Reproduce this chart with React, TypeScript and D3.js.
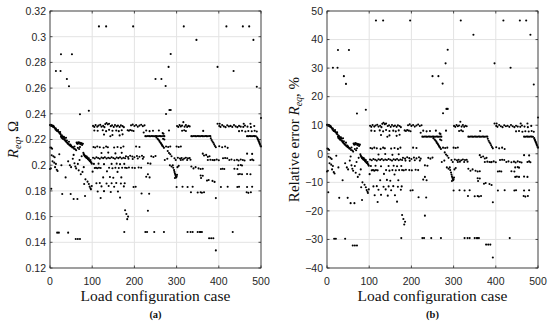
import React from "react";
import * as d3 from "d3";

// Nominal equivalent resistance used for the relative error (Ω)
const R_NOMINAL = 0.21;

const X_TICKS = [0, 100, 200, 300, 400, 500];
const Y_TICKS_A = [0.12, 0.14, 0.16, 0.18, 0.2, 0.22, 0.24, 0.26, 0.28, 0.3, 0.32];
const Y_TICKS_B = [-40, -30, -20, -10, 0, 10, 20, 30, 40, 50];

// [load configuration case, R_eq (Ω)]
const POINTS_A: [number, number][] = [
  [0,.2313],[1,.2310],[2,.2314],[3,.2306],[4,.2311],[5,.2309],[6,.2304],[7,.2300],[8,.2306],[9,.2298],[10,.2294],[12,.2288],[13,.2278],[14,.2286],[15,.2273],[16,.2268],[18,.2266],[19,.2274],[20,.2260],[22,.2255],[23,.2247],[24,.2258],[25,.2242],[26,.2226],[27,.2216],[28,.2232],[29,.2210],[30,.2223],[31,.2204],[32,.2216],[33,.2221],[34,.2198],[35,.2211],[36,.2194],[37,.2186],[38,.2214],[39,.2180],[40,.2192],[41,.2174],[42,.2168],[44,.2165],[45,.2182],[46,.2156],[48,.2160],[49,.2148],[50,.2153],[52,.2144],[53,.2138],[55,.2139],[57,.2128],[58,.2146],[60,.2124],[62,.2116],
  [63,.2176],[64,.2171],[65,.2166],[67,.2179],[68,.2170],[70,.2176],[72,.2164],[73,.2172],[75,.2170],[76,.2158],[78,.2167],[66,.2135],[69,.2126],[71,.2141],
  [79,.2096],[80,.2086],[81,.2080],[82,.2074],[83,.2068],[84,.2073],[85,.2064],[86,.2058],[87,.2068],[88,.2054],[89,.2060],[90,.2048],[91,.2044],[92,.2053],[93,.2038],[94,.2034],[95,.2030],[96,.2040],[97,.2024],[98,.2019],[99,.2012],
  [84,.1890],[89,.1872],[92,.1854],[94,.1833],[96,.1820],[97,.1812],[99,.1838],
  [1,.2138],[3,.2135],[5,.2128],[4,.2078],[8,.2070],[11,.2062],[6,.2030],[10,.2020],[12,.1985],[2,.1975],[0,.1970],[16,.1965],[18,.1955],[14,.2010],[27,.2000],[22,.2085],[37,.1905],[43,.2030],[47,.2000],[50,.1985],[54,.2050],[56,.2080],[58,.2015],[60,.1990],[62,.1975],[66,.2010],[68,.1960],[70,.2040],[73,.1930],[75,.2070],[77,.1948],[80,.1985],
];

const POINTS_B: [number, number][] = [
  [102,.2306],[105,.2298],[108,.2312],[112,.2300],[115,.2308],[119,.2314],[122,.2300],[126,.2306],[129,.2296],[131,.2320],[134,.2328],[137,.2318],[140,.2322],[144,.2304],[147,.2310],[151,.2298],[154,.2312],[158,.2302],[161,.2308],[165,.2298],[168,.2310],[172,.2304],[175,.2296],
  [105,.2270],[113,.2268],[125,.2272],[133,.2265],[140,.2275],[148,.2268],[157,.2270],[163,.2265],[170,.2272],
  [128,.2238],[148,.2235],[165,.2232],[172,.2240],[143,.2225],
  [103,.2142],[107,.2138],[112,.2145],[118,.2140],[127,.2136],[133,.2145],[137,.2140],[152,.2138],[160,.2142],[168,.2136],[174,.2145],
  [122,.2095],[138,.2098],[155,.2092],[170,.2096],
  [102,.2058],[106,.2052],[110,.2062],[114,.2056],[118,.2050],[122,.2060],[126,.2055],[130,.2062],[134,.2052],[138,.2058],[142,.2054],[146,.2062],[150,.2056],[154,.2050],[158,.2060],[162,.2055],[166,.2062],[170,.2052],[174,.2058],[178,.2054],
  [104,.2010],[115,.2012],[128,.2008],[146,.2010],[158,.2012],[166,.2008],[176,.2010],
  [106,.1978],[109,.1980],[112,.1976],[116,.1980],[120,.1978],[140,.1980],[148,.1976],[155,.1980],[163,.1978],[171,.1980],
  [101,.1950],[135,.1952],[160,.1948],
  [126,.1905],[142,.1908],[150,.1902],[169,.1905],
  [110,.1860],[118,.1862],[134,.1858],[146,.1860],[157,.1862],[168,.1858],
  [122,.1835],[139,.1838],[152,.1832],[175,.1835],
  [113,.1795],[128,.1798],[144,.1792],[161,.1795],
  [120,.1745],[166,.1748],
];

const POINTS_C: [number, number][] = [
  [192,.2310],[196,.2316],[200,.2305],[204,.2312],[208,.2300],[212,.2308],[216,.2315],[220,.2304],[224,.2310],
  [184,.2272],[187,.2268],[190,.2274],[194,.2270],[198,.2266],[222,.2255],[228,.2270],[236,.2265],[244,.2268],[258,.2270],
  [226,.2226],[229,.2225],[232,.2227],[235,.2226],[238,.2225],[241,.2227],[244,.2226],[247,.2225],[250,.2227],[253,.2226],[256,.2225],[259,.2227],[262,.2226],[265,.2225],[268,.2227],[271,.2226],
  [252,.2215],[255,.2205],[257,.2198],[259,.2190],[260,.2182],[262,.2175],[263,.2168],[265,.2160],[266,.2152],[268,.2145],[270,.2135],
  [267,.2250],[269,.2245],[268,.2205],[271,.2200],
  [204,.2145],[212,.2142],[275,.2145],[280,.2142],[285,.2145],
  [279,.2110],[282,.2095],[285,.2085],[288,.2070],
  [180,.2070],[185,.2064],[190,.2074],[195,.2068],[200,.2062],[206,.2072],[212,.2066],[218,.2074],[222,.2064],[240,.2070],[245,.2064],[250,.2072],
  [186,.2050],[196,.2048],[208,.2052],[220,.2050],
  [178,.1980],[182,.1978],[187,.1982],[195,.1980],[201,.1978],[210,.1982],[216,.1980],
  [232,.2015],[238,.2012],
  [228,.1910],[236,.1905],[232,.1930],
  [198,.1830],[203,.1832],
  [217,.1780],[235,.1778],
  [177,.1860],
  [272,.2040],[278,.2050],[284,.2000],[288,.1990],
];

const POINTS_D: [number, number][] = [
  [291,.2000],[292,.1980],[294,.1962],[295,.1948],[296,.1935],[297,.1925],[298,.1915],[299,.1905],[300,.1912],[301,.1925],[296,.1900],[302,.1985],[305,.1995],
  [301,.2305],[304,.2298],[307,.2312],[310,.2302],[313,.2308],[316,.2335],[319,.2300],[322,.2312],[325,.2298],[328,.2306],[331,.2302],
  [282,.2270],[313,.2268],[318,.2272],[322,.2266],
  [300,.2145],[305,.2142],[310,.2146],
  [295,.2054],[303,.2058],[308,.2052],[312,.2056],[318,.2052],[322,.2058],[327,.2054],[331,.2056],
  [298,.2040],[310,.2040],[315,.2042],[325,.2040],[333,.2042],
  [335,.2226],[338,.2225],[341,.2227],[344,.2226],[347,.2225],[350,.2227],[353,.2226],[356,.2225],[359,.2227],[362,.2226],[365,.2225],[368,.2227],[371,.2226],[374,.2225],[377,.2227],[380,.2226],
  [381,.2210],[383,.2196],[385,.2185],[387,.2175],[389,.2162],[391,.2150],[393,.2140],
  [363,.2267],
  [362,.2090],[365,.2075],[370,.2080],[374,.2065],[378,.2070],
  [374,.2040],[380,.2042],[385,.2040],[389,.2038],
  [335,.1990],[340,.1975],[345,.1985],[352,.1975],[357,.1970],[362,.1972],
  [357,.1920],[362,.1918],[358,.1900],
  [372,.1880],[376,.1885],[385,.1878],[390,.1870],
  [300,.1830],[314,.1832],[326,.1830],[338,.1832],
  [334,.1790],[350,.1788],[357,.1790],[360,.1786],[365,.1790],
  [393,.1744],
];

const POINTS_E: [number, number][] = [
  [397,.2323],[402,.2323],
  [401,.2305],[404,.2298],[408,.2312],[412,.2302],[416,.2296],[420,.2310],[424,.2302],[428,.2306],[432,.2298],[436,.2312],[440,.2302],[444,.2296],[448,.2306],[452,.2300],[458,.2298],[462,.2308],[468,.2300],[476,.2296],[484,.2305],
  [459,.2323],[475,.2323],
  [448,.2265],[455,.2268],[463,.2262],[470,.2266],[478,.2264],[485,.2268],[490,.2262],
  [467,.2226],[470,.2225],[473,.2227],[476,.2226],[479,.2225],[482,.2227],[485,.2226],[488,.2225],
  [491,.2215],[492,.2205],[493,.2200],[494,.2190],[495,.2185],[496,.2175],[497,.2166],[498,.2160],[499,.2150],[500,.2145],
  [401,.2148],[408,.2140],[415,.2145],[421,.2135],
  [410,.2054],[415,.2056],[420,.2054],
  [390,.2040],[395,.2044],[400,.2038],[425,.2040],[430,.2044],[437,.2038],[443,.2042],[447,.2036],[452,.2044],[457,.2040],[461,.2036],[475,.2040],[479,.2044],[482,.2038],
  [467,.2090],[479,.2088],
  [446,.2000],[452,.2002],[455,.1998],
  [405,.1970],[409,.1972],[413,.1970],[437,.1972],[444,.1970],
  [446,.1930],[450,.1932],[455,.1930],[467,.1932],[475,.1930],
  [405,.1830],[421,.1832],[444,.1830],[448,.1832],[467,.1830],[479,.1832],
  [466,.1790],[470,.1785],[476,.1790],
];

const OUTLIERS: [number, number][] = [
  [14,.2733],[25,.2733],[26,.2863],[52,.2863],[40,.2671],[45,.2614],[71,.2396],[92,.2424],[3,.1817],[29,.1776],[49,.1776],[56,.1737],[65,.1737],[81,.1854],[83,.1760],[17,.1475],[21,.1475],[43,.1475],[61,.1426],[66,.1426],[71,.1426],
  [116,.3080],[133,.3080],[197,.3080],[317,.3080],[418,.3080],[457,.3080],[472,.3080],[347,.2975],[482,.2975],
  [250,.2671],[264,.2671],[274,.2616],[275,.2398],[281,.2765],[286,.2865],[283,.2430],[286,.2430],[397,.2765],[435,.2733],[490,.2610],[500,.2367],
  [178,.1650],[181,.1620],[183,.1580],[185,.1600],[176,.1480],[226,.1480],[230,.1480],[247,.1480],[270,.1480],[232,.1645],[326,.1480],[333,.1480],[338,.1480],[350,.1480],[355,.1480],[360,.1480],[357,.1480],[433,.1480],[377,.1432],[382,.1432],[387,.1432],[393,.1337],
];

const ALL_POINTS = [...POINTS_A, ...POINTS_B, ...POINTS_C, ...POINTS_D, ...POINTS_E, ...OUTLIERS];

const AXIS = "#262626";
const GRID = "#e3e3e3";
const SANS = "Liberation Sans, Arial, sans-serif";
const SERIF = "Liberation Serif, Times New Roman, serif";

type PanelProps = {
  x0: number; x1: number; y0: number; y1: number;
  domainY: [number, number];
  yTicks: number[];
  fmt: (v: number) => string;
  values: [number, number][];
  tag: string;
  yLabel: React.ReactNode;
  yLabelX: number;
};

function Panel({ x0, x1, y0, y1, domainY, yTicks, fmt, values, tag, yLabel, yLabelX }: PanelProps) {
  const x = d3.scaleLinear().domain([0, 500]).range([x0, x1]);
  const y = d3.scaleLinear().domain(domainY).range([y1, y0]);
  const tl = 2.5;
  const cx = (x0 + x1) / 2;
  return (
    <g>
      {yTicks.map((t) => (
        <line key={"gy" + t} x1={x0} x2={x1} y1={y(t)} y2={y(t)} stroke={GRID} strokeWidth={1} />
      ))}
      {X_TICKS.map((t) => (
        <line key={"gx" + t} x1={x(t)} x2={x(t)} y1={y0} y2={y1} stroke={GRID} strokeWidth={1} />
      ))}
      {values.map(([c, v], i) => (
        <circle key={i} cx={x(c)} cy={y(v)} r={1.05} fill="#000" />
      ))}
      <rect x={x0} y={y0} width={x1 - x0} height={y1 - y0} fill="none" stroke={AXIS} strokeWidth={0.8} />
      {X_TICKS.map((t) => (
        <g key={"tx" + t}>
          <line x1={x(t)} x2={x(t)} y1={y1} y2={y1 - tl} stroke={AXIS} strokeWidth={0.8} />
          <line x1={x(t)} x2={x(t)} y1={y0} y2={y0 + tl} stroke={AXIS} strokeWidth={0.8} />
          <text x={x(t)} y={285} textAnchor="middle" fontFamily={SANS} fontSize={10.5} fill={AXIS}>{t}</text>
        </g>
      ))}
      {yTicks.map((t) => (
        <g key={"ty" + t}>
          <line x1={x0} x2={x0 + tl} y1={y(t)} y2={y(t)} stroke={AXIS} strokeWidth={0.8} />
          <line x1={x1} x2={x1 - tl} y1={y(t)} y2={y(t)} stroke={AXIS} strokeWidth={0.8} />
          <text x={x0 - 4} y={y(t) + 3.8} textAnchor="end" fontFamily={SANS} fontSize={10.5} fill={AXIS}>{fmt(t)}</text>
        </g>
      ))}
      <text x={cx} y={301} textAnchor="middle" fontFamily={SERIF} fontSize={15.5} fill="#111">Load configuration case</text>
      <text x={cx} y={318} textAnchor="middle" fontFamily={SERIF} fontSize={10.5} fontWeight="bold" fill="#111">{tag}</text>
      <text transform={`translate(${yLabelX},${(y0 + y1) / 2}) rotate(-90)`} textAnchor="middle" fontFamily={SERIF} fontSize={15} fill="#111">{yLabel}</text>
    </g>
  );
}

export default function App() {
  const errValues: [number, number][] = ALL_POINTS.map(([c, v]) => [c, (v / R_NOMINAL - 1) * 100]);
  return (
    <svg width={550} height={324} style={{ position: "absolute", left: 0, top: 0, background: "#fff" }}>
      <rect width={550} height={324} fill="#fff" />
      <Panel
        x0={50} x1={261} y0={11} y1={268}
        domainY={[0.12, 0.32]} yTicks={Y_TICKS_A}
        fmt={(v) => String(+v.toFixed(2))}
        values={ALL_POINTS} tag="(a)"
        yLabelX={18}
        yLabel={<><tspan fontStyle="italic">R</tspan><tspan fontStyle="italic" fontSize={10} dy={3}>eq</tspan><tspan dy={-3}>,  Ω</tspan></>}
      />
      <Panel
        x0={327} x1={538} y0={11} y1={268}
        domainY={[-40, 50]} yTicks={Y_TICKS_B}
        fmt={(v) => (v < 0 ? "\u2212" + Math.abs(v) : String(v))}
        values={errValues} tag="(b)"
        yLabelX={299}
        yLabel={<><tspan>Relative error  </tspan><tspan fontStyle="italic">R</tspan><tspan fontStyle="italic" fontSize={10} dy={3}>eq</tspan><tspan dy={-3}>, %</tspan></>}
      />
    </svg>
  );
}
